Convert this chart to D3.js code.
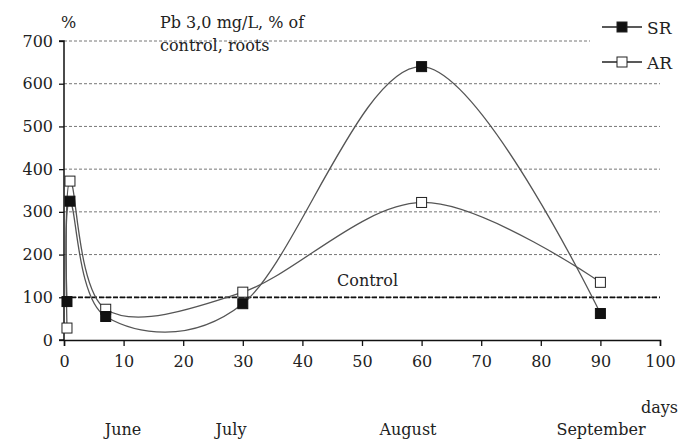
<!DOCTYPE html>
<html><head><meta charset="utf-8">
<script src="https://cdn.jsdelivr.net/npm/d3@7/dist/d3.min.js"></script>
<style>body{margin:0;background:#fff}svg{display:block}text{font-family:"DejaVu Serif",serif;fill:#222}</style>
</head><body><svg id="c" width="681" height="441"></svg>
<script>
const days = [0.5, 1, 7, 30, 60, 90];
const srValues = [90, 325, 55, 85, 640, 62];
const arValues = [28, 372, 72, 112, 322, 135];
const yTicks = [0, 100, 200, 300, 400, 500, 600, 700];
const xTicks = [0, 10, 20, 30, 40, 50, 60, 70, 80, 90, 100];
const months = [{name:"June", day:10}, {name:"July", day:28}, {name:"August", day:58}, {name:"September", day:90}];
const controlValue = 100;

const svg = d3.select("#c");
const x = d3.scaleLinear().domain([0, 100]).range([64, 660]);
const y = d3.scaleLinear().domain([0, 700]).range([340, 41]);

// grid
svg.append("g").selectAll("line").data(yTicks.filter(d => d > 0)).join("line")
  .attr("x1", x(0)).attr("x2", d => d === 700 ? 590 : x(100))
  .attr("y1", d => y(d)).attr("y2", d => y(d))
  .attr("stroke", "#777").attr("stroke-width", 1).attr("stroke-dasharray", "3,2");

// control line
svg.append("line").attr("x1", x(0)).attr("x2", x(100)).attr("y1", y(controlValue)).attr("y2", y(controlValue))
  .attr("stroke", "#111").attr("stroke-width", 1.8).attr("stroke-dasharray", "5,2");
svg.append("text").attr("x", 337).attr("y", 286).attr("font-size", 16).text("Control");

// axes
const yAxis = d3.axisLeft(y).tickValues(yTicks).tickSize(5).tickPadding(6);
const gy = svg.append("g").attr("transform", `translate(${x(0)},0)`).call(yAxis);
const xAxis = d3.axisBottom(x).tickValues(xTicks).tickSize(6).tickPadding(10);
const gx = svg.append("g").attr("transform", `translate(0,${y(0)})`).call(xAxis);
[gy, gx].forEach(g => {
  g.select(".domain").attr("stroke", "#111").attr("stroke-width", 1.5);
  g.selectAll(".tick line").attr("stroke", "#111").attr("stroke-width", 1.3);
  g.selectAll(".tick text").attr("font-family", "DejaVu Serif Condensed, DejaVu Serif, serif").attr("font-size", 16).attr("fill", "#222");
});
gy.select(".domain").attr("d", `M-5,${y(0)}H0V${y(700)}H-5`);

// series lines
const line = d3.line().x(d => x(d[0])).y(d => y(d[1])).curve(d3.curveCardinal.tension(0));
const srPts = days.map((d, i) => [d, srValues[i]]);
const arPts = days.map((d, i) => [d, arValues[i]]);
svg.append("path").datum(srPts).attr("d", line).attr("fill", "none").attr("stroke", "#555").attr("stroke-width", 1.3);
svg.append("path").datum(arPts).attr("d", line).attr("fill", "none").attr("stroke", "#555").attr("stroke-width", 1.3);

const ms = 10;
svg.append("g").selectAll("rect").data(arPts).join("rect")
  .attr("x", d => x(d[0]) - ms/2).attr("y", d => y(d[1]) - ms/2).attr("width", ms).attr("height", ms)
  .attr("fill", "#fff").attr("stroke", "#222").attr("stroke-width", 1);
svg.append("g").selectAll("rect").data(srPts).join("rect")
  .attr("x", d => x(d[0]) - ms/2).attr("y", d => y(d[1]) - ms/2).attr("width", ms).attr("height", ms)
  .attr("fill", "#111").attr("stroke", "#111").attr("stroke-width", 1);

// legend
const legend = [{name:"SR", fill:"#111", cy:27}, {name:"AR", fill:"#fff", cy:62}];
legend.forEach(l => {
  svg.append("line").attr("x1", 602).attr("x2", 642).attr("y1", l.cy).attr("y2", l.cy).attr("stroke", "#222").attr("stroke-width", 1.3);
  svg.append("rect").attr("x", 622 - 5).attr("y", l.cy - 5).attr("width", 10).attr("height", 10)
    .attr("fill", l.fill).attr("stroke", "#222").attr("stroke-width", 1);
  svg.append("text").attr("x", 647).attr("y", l.cy + 7).attr("font-size", 17).attr("font-family", "Liberation Serif, serif").text(l.name);
});

// labels
svg.append("text").attr("x", 61).attr("y", 28).attr("font-size", 16).text("%");
svg.append("text").attr("x", 160).attr("y", 28).attr("font-size", 16).text("Pb 3,0 mg/L, % of");
svg.append("text").attr("x", 160).attr("y", 51).attr("font-size", 16).text("control, roots");
svg.append("text").attr("x", 678).attr("y", 413).attr("font-size", 16).attr("text-anchor", "end").text("days");
const monthX = {"June":123, "July":231, "August":408, "September":601};
svg.append("g").selectAll("text").data(months).join("text")
  .attr("x", d => x(d.day) + (monthX[d.name] - x(d.day))).attr("y", 435)
  .attr("text-anchor", "middle").attr("font-size", 16).text(d => d.name);
</script></body></html>
